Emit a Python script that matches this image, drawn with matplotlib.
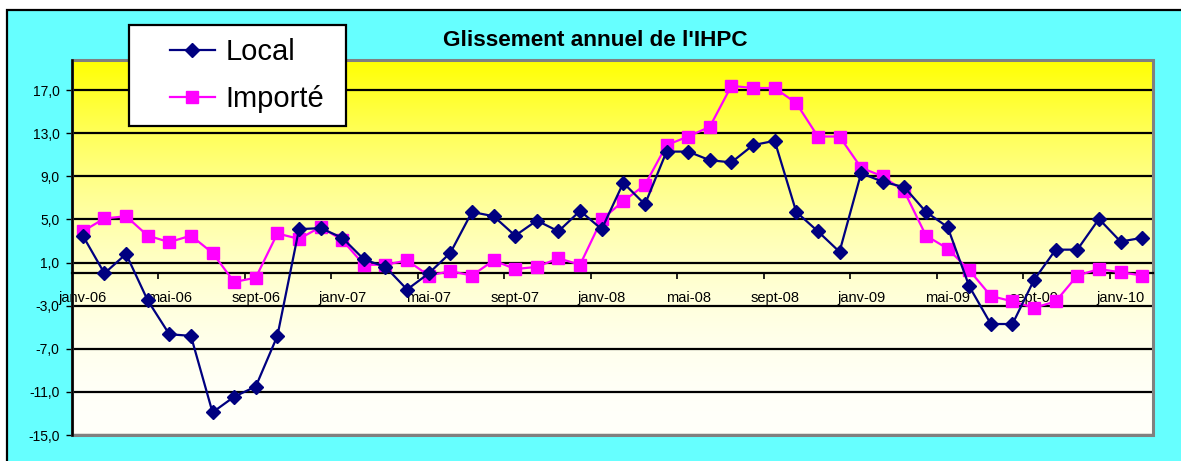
import numpy as np
import matplotlib
matplotlib.use("Agg")
import matplotlib.pyplot as plt
from matplotlib.patches import Rectangle
from matplotlib.legend_handler import HandlerLine2D

plt.rcParams['font.family'] = ['Liberation Sans', 'DejaVu Sans']

# ---- data ----
mois = ["janv", "févr", "mars", "avr", "mai", "juin",
        "juil", "août", "sept", "oct", "nov", "déc"]
annees = ["06", "07", "08", "09", "10"]
categories = [f"{m}-{a}" for a in annees for m in mois][:50]

local = [3.5, 0.0, 1.8, -2.5, -5.65, -5.8, -12.9, -11.45, -10.5, -5.8,
         4.1, 4.2, 3.3, 1.3, 0.6, -1.5, 0.0, 1.9, 5.7, 5.3,
         3.5, 4.9, 3.9, 5.8, 4.1, 8.4, 6.4, 11.3, 11.3, 10.5,
         10.3, 11.9, 12.3, 5.7, 3.9, 2.0, 9.3, 8.5, 8.0, 5.7,
         4.3, -1.2, -4.7, -4.7, -0.6, 2.2, 2.2, 5.05, 2.95, 3.3]

importe = [3.9, 5.1, 5.3, 3.5, 2.9, 3.5, 1.9, -0.8, -0.4, 3.7,
           3.2, 4.3, 3.1, 0.8, 0.8, 1.2, -0.2, 0.2, -0.2, 1.2,
           0.4, 0.6, 1.4, 0.8, 5.0, 6.7, 8.2, 11.9, 12.7, 13.6,
           17.4, 17.2, 17.2, 15.8, 12.7, 12.7, 9.8, 9.0, 7.6, 3.5,
           2.3, 0.3, -2.1, -2.6, -3.2, -2.6, -0.2, 0.4, 0.1, -0.2]

yticks = [-15, -11, -7, -3, 1, 5, 9, 13, 17]
titre = "Glissement annuel de l'IHPC"
series_names = ["Local", "Importé"]

# ---- figure ----
W, H = 1181, 461
fig = plt.figure(figsize=(W / 100, H / 100), dpi=100, facecolor='white')

# chart area (cyan with black border top/left)
fig.patches.append(Rectangle((7 / W, -0.1), 1.2, 1.1 - 10 / H,
                             transform=fig.transFigure, facecolor='#66FFFF',
                             edgecolor='black', linewidth=1.6, zorder=-5))

px0, px1, py0, py1 = 72, 1153, 60, 435
ax = fig.add_axes([px0 / W, 1 - py1 / H, (px1 - px0) / W, (py1 - py0) / H])
ax.set_axisbelow(True)

# gradient background (row 0 = top = yellow)
t = np.linspace(0, 1, 256)
b = 250 * (1 - (1 - t) ** 2)
grad = np.zeros((256, 1, 3))
grad[:, 0, 0] = 1.0
grad[:, 0, 1] = 1.0
grad[:, 0, 2] = b / 255
ax.imshow(grad, aspect='auto', extent=(0, 1, 0, 1), origin='upper',
          transform=ax.transAxes, zorder=0, interpolation='bilinear')

x = np.arange(len(categories))
ax.plot(x, local, color='#000080', lw=1.6, marker='D', ms=6.8,
        mec='#000080', mfc='#000080', zorder=3, label=series_names[0])
ax.plot(x, importe, color='#FF00FF', lw=1.6, marker='s', ms=8.2,
        mec='#FF00FF', mfc='#FF00FF', zorder=2.8, label=series_names[1])

ax.set_xlim(-0.5, len(categories) - 0.5)
ax.set_ylim(-15, 19.8)

# y axis
ax.set_yticks(yticks, labels=[f"{v:.1f}".replace('.', ',') for v in yticks])
ax.tick_params(axis='y', direction='out', length=4, width=1, pad=5,
               labelsize=10, colors='black')
ax.yaxis.grid(True, color='black', lw=1.6)

# x axis at 0
ax.set_xticks(x[::4], labels=[categories[i] for i in range(0, len(categories), 4)])
ax.set_xticks(np.arange(3.5, len(categories) - 1, 4), minor=True)
ax.tick_params(axis='x', which='major', length=0, pad=13, labelsize=10.5)
ax.tick_params(axis='x', which='minor', direction='out', length=4, width=1.2)

ax.spines['bottom'].set_position(('data', 0))
ax.spines['bottom'].set_linewidth(1.6)
ax.spines['bottom'].set_zorder(1)
ax.spines['left'].set_linewidth(1.8)
ax.spines['left'].set_zorder(1)
ax.spines['top'].set_visible(False)
ax.spines['right'].set_visible(False)
# gray plot-area border
ax.add_patch(Rectangle((0, 0), 1, 1, transform=ax.transAxes, fill=False,
                       edgecolor='#808080', lw=2.2, clip_on=False, zorder=0.6))

# title
fig.text(595 / W, 1 - 40 / H, titre, ha='center', va='center',
         fontsize=16.2, fontweight='bold')


# legend
class ShiftHandler(HandlerLine2D):
    def __init__(self, shift, **kw):
        super().__init__(**kw)
        self.shift = shift

    def create_artists(self, legend, orig_handle, xdescent, ydescent, width,
                       height, fontsize, trans):
        return super().create_artists(legend, orig_handle, xdescent - self.shift,
                                      ydescent, width - self.shift, height,
                                      fontsize, trans)


handles, labels = ax.get_legend_handles_labels()
fs = 21
leg = fig.legend(handles, labels, loc='upper left',
                 bbox_to_anchor=(129 / W, 1 - 25 / H, 217 / W, 0),
                 mode='expand', borderaxespad=0,
                 fontsize=fs, frameon=True, fancybox=False,
                 handlelength=2.5, handletextpad=0.35, borderpad=0.45,
                 labelspacing=0.65,
                 handler_map={h: ShiftHandler(20) for h in handles})
leg.get_frame().set_edgecolor('black')
leg.get_frame().set_linewidth(1.6)
leg.get_frame().set_facecolor('white')
leg.get_frame().set_alpha(1)

fig.savefig('out.png', dpi=100, facecolor='white')
